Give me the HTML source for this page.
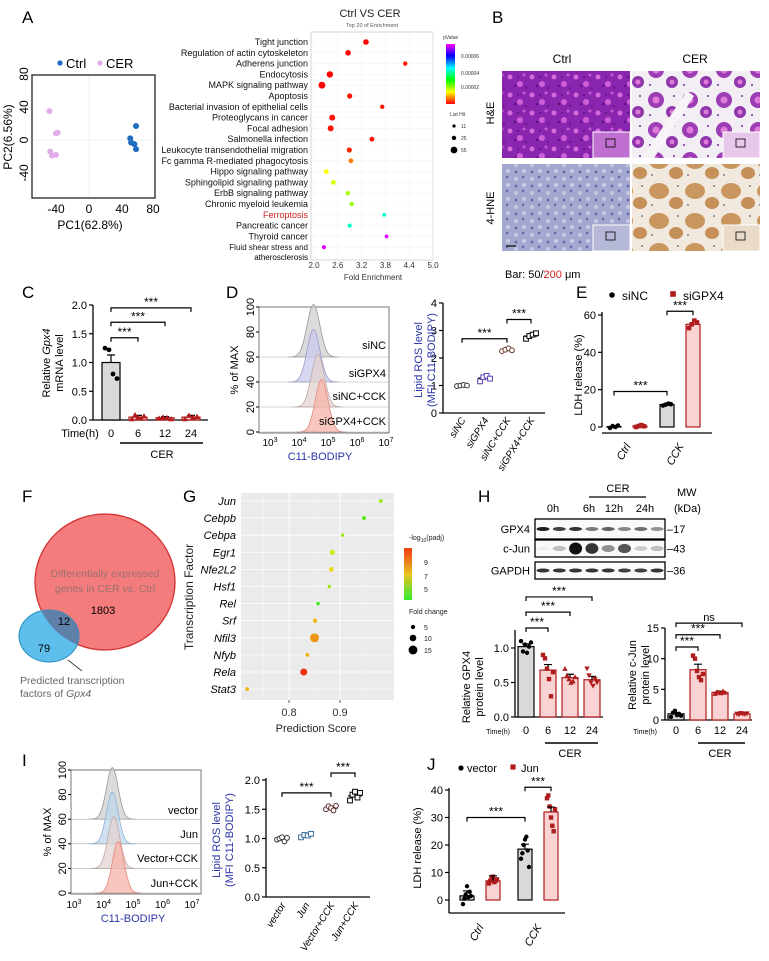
<!DOCTYPE html>
<html><head><meta charset="utf-8"><title>Figure</title>
<style>
body{margin:0;background:#fff}
svg{display:block;font-family:"Liberation Sans",Arial,sans-serif}
</style></head>
<body>
<svg id="fig" width="769" height="961" viewBox="0 0 769 961">
<defs>
<pattern id="heCtrl" width="22" height="18" patternUnits="userSpaceOnUse">
<rect width="22" height="18" fill="#8a25b0"/>
<circle cx="4" cy="5" r="2.5" fill="#d56ad8"/><circle cx="14" cy="12" r="3" fill="#cf5fd6"/>
<circle cx="18" cy="3" r="1.5" fill="#c85ad0"/><circle cx="9" cy="14" r="1.2" fill="#5a1280"/>
<circle cx="12" cy="5" r="1" fill="#5a1280"/><circle cx="20" cy="16" r="1" fill="#5a1280"/>
</pattern>
<pattern id="heCer" width="34" height="30" patternUnits="userSpaceOnUse">
<rect width="34" height="30" fill="#f3eef4"/>
<circle cx="10" cy="10" r="8" fill="#9c3db5"/><circle cx="10" cy="10" r="3.5" fill="#e07ad8"/>
<circle cx="26" cy="22" r="6" fill="#8f36ad"/><circle cx="26" cy="22" r="2.5" fill="#e07ad8"/>
<circle cx="28" cy="6" r="1" fill="#7a2a99"/><circle cx="4" cy="25" r="1" fill="#7a2a99"/>
</pattern>
<pattern id="hneCtrl" width="16" height="14" patternUnits="userSpaceOnUse">
<rect width="16" height="14" fill="#a4a7cf"/>
<circle cx="4" cy="4" r="1.3" fill="#5f63a3"/><circle cx="11" cy="9" r="1.2" fill="#5f63a3"/>
<circle cx="12" cy="3" r="2" fill="#c9cae2"/><circle cx="4" cy="11" r="2.2" fill="#c4c6e0"/>
</pattern>
<pattern id="hneCer" width="36" height="30" patternUnits="userSpaceOnUse">
<rect width="36" height="30" fill="#f1e8de"/>
<ellipse cx="11" cy="11" rx="10" ry="8" fill="#c8965e"/>
<ellipse cx="28" cy="23" rx="7" ry="6" fill="#c48f58"/>
<circle cx="30" cy="6" r="0.9" fill="#6a5a7a"/><circle cx="4" cy="25" r="0.9" fill="#6a5a7a"/>
</pattern>
<linearGradient id="pGrad" x1="0" y1="1" x2="0" y2="0">
<stop offset="0" stop-color="#ff0000"/><stop offset="0.2" stop-color="#ffff00"/><stop offset="0.4" stop-color="#00ff00"/>
<stop offset="0.6" stop-color="#00ffff"/><stop offset="0.8" stop-color="#0000ff"/><stop offset="1" stop-color="#ff00ff"/>
</linearGradient>
<linearGradient id="gGrad" x1="0" y1="1" x2="0" y2="0">
<stop offset="0" stop-color="#33ee33"/><stop offset="0.5" stop-color="#e8c020"/><stop offset="1" stop-color="#ee3a10"/>
</linearGradient>
</defs>
</svg>
<script>
// ===== DATA =====
const pcaCtrlX=[50,57,51,55,57];
const pcaCtrlY=[2,17,-3,-5,-11];
const pcaCerX=[-48,-40,-38,-47,-45,-40];
const pcaCerY=[35,8,9,-14,-19,-18];
const pcaXTicks=[-40,0,40,80];
const pcaYTicks=[80,40,0,-40];

const enrTerms=["Tight junction","Regulation of actin cytoskeleton","Adherens junction","Endocytosis","MAPK signaling pathway","Apoptosis","Bacterial invasion of epithelial cells","Proteoglycans in cancer","Focal adhesion","Salmonella infection","Leukocyte transendothelial migration","Fc gamma R-mediated phagocytosis","Hippo signaling pathway","Sphingolipid signaling pathway","ErbB signaling pathway","Chronic myeloid leukemia","Ferroptosis","Pancreatic cancer","Thyroid cancer","Fluid shear stress and"];
const enrFold=[3.31,2.86,4.30,2.40,2.20,2.90,3.72,2.46,2.42,3.46,2.89,2.93,2.31,2.49,2.85,2.95,3.77,2.90,3.83,2.25];
const enrP=[0.000005,0.000005,0.000006,0.000005,0.000005,0.000006,0.000006,0.000006,0.000006,0.000006,0.000007,0.000012,0.000019,0.000021,0.000024,0.000025,0.000044,0.000044,0.000073,0.000073];
const enrHits=[40,40,25,50,55,35,25,45,45,30,35,30,30,30,25,25,18,22,18,22];
const enrXTicks=[2.0,2.6,3.2,3.8,4.4,5.0];

const cTimes=["0","6","12","24"];
const cMeans=[1.0,0.05,0.04,0.05];
const cSems=[0.13,0.03,0.02,0.03];
const cPts=[[1.25,1.22,0.8,0.72],[0.02,0.09,0.05,0.03,0.07],[0.03,0.05,0.04,0.02],[0.02,0.08,0.05,0.06]];
const cTicks=[0,0.5,1.0,1.5,2.0];

const dGroups=["siNC","siGPX4","siNC+CCK","siGPX4+CCK"];
const dPeak=[4.5,4.5,4.65,4.78];
const dMeans=[1.0,1.27,2.3,2.8];
const dPts=[[0.98,1.0,1.02,1.0],[1.15,1.3,1.35,1.25],[2.25,2.3,2.35,2.28],[2.7,2.8,2.85,2.9]];
const dTicks=[0,1,2,3,4];
const histYTicks=[0,20,40,60,80,100];
const histXTicks=[3,4,5,6,7];

const eGroups=["Ctrl","CCK"];
const eMeans=[[0.2,0.5],[12,55]];
const ePts=[[[-0.5,0.5,0,0.8],[0,0.5,1,0.4]],[[11.5,12,12.5,12.2],[53,55,57,56]]];
const eTicks=[0,20,40,60];

const vennDE=1803, vennTF=79, vennBoth=12;

const gTF=["Jun","Cebpb","Cebpa","Egr1","Nfe2L2","Hsf1","Rel","Srf","Nfil3","Nfyb","Rela","Stat3"];
const gScore=[0.98,0.947,0.905,0.885,0.883,0.879,0.857,0.851,0.85,0.836,0.829,0.718];
const gPadj=[6,5,6,6.8,7.5,6,4.5,8,8.5,8,10,8];
const gFold=[4,4,3,7,6,3,3,5,15,4,11,4];
const gXTicks=[0.8,0.9];

const blotGPX4=[0.95,0.8,0.85,0.55,0.65,0.5,0.6,0.45];
const blotCJun=[0.05,0.25,1.0,0.85,0.45,0.7,0.2,0.25];
const blotGAPDH=[0.85,0.85,0.85,0.85,0.85,0.8,0.8,0.85];

const hGpxMeans=[1.02,0.68,0.57,0.54];
const hGpxSems=[0.04,0.08,0.05,0.05];
const hGpxPts=[[1.1,0.95,1.05,0.93,1.02,1.08],[0.9,0.85,0.7,0.55,0.3,0.65],[0.7,0.6,0.55,0.5,0.52,0.58],[0.7,0.6,0.5,0.45,0.55,0.5]];
const hGpxTicks=[0,0.5,1.0];
const hJunMeans=[1.0,8.2,4.5,1.0];
const hJunSems=[0.2,0.9,0.2,0.05];
const hJunPts=[[0.5,1.2,1.5,0.8,1.0,0.7],[10.5,10,8,7,6.5,7.5],[4.3,4.6,4.5,4.4,4.7,4.5],[1.0,0.9,1.1,1.0,0.95,1.05]];
const hJunTicks=[0,5,10,15];

const iGroups=["vector","Jun","Vector+CCK","Jun+CCK"];
const iPeak=[4.3,4.3,4.35,4.5];
const iMeans=[1.0,1.05,1.52,1.73];
const iPts=[[0.98,1.0,1.02,0.95,1.01],[1.02,1.06,1.05,1.08],[1.5,1.55,1.52,1.48,1.56],[1.65,1.75,1.8,1.7,1.78]];
const iTicks=[0,0.5,1.0,1.5,2.0];

const jMeans=[[1.5,7],[18.5,32]];
const jPts=[[[-1.5,0.5,2,5,1,3,1.5],[6,7,8,8.5,6.5,7,7.5]],[[15,17,20,22,23,18,12],[37,38,34,30,27,25,33]]];
const jTicks=[0,10,20,30,40];

// ===== HELPERS =====
const NS='http://www.w3.org/2000/svg';
const fig=document.getElementById('fig');
function el(tag,at,parent){const e=document.createElementNS(NS,tag);for(const k in at)e.setAttribute(k,at[k]);(parent||fig).appendChild(e);return e;}
function nm(e,n){


return e;}
function tx(x,y,s,fs,o,name){o=o||{};const e=el('text',Object.assign({x:x,y:y,'font-size':fs,fill:o.fill||'#000','text-anchor':o.a||'start'},o.at||{}));e.innerHTML=s;if(o.rot!==undefined)e.setAttribute('transform','rotate('+o.rot+' '+x+' '+y+')');return nm(e,name||'label');}
function ln(x1,y1,x2,y2,w,c,name){return nm(el('line',{x1:x1,y1:y1,x2:x2,y2:y2,stroke:c||'#000','stroke-width':w||1}),name||'line');}
function lin(d0,d1,r0,r1){return v=>r0+(v-d0)*(r1-r0)/(d1-d0);}
function marker(shape,x,y,s,fill,stroke,name){let e;
if(shape==='c')e=el('circle',{cx:x,cy:y,r:s,fill:fill,stroke:stroke||'none','stroke-width':1});
else if(shape==='s')e=el('rect',{x:x-s,y:y-s,width:2*s,height:2*s,fill:fill,stroke:stroke||'none','stroke-width':1});
else if(shape==='t')e=el('polygon',{points:(x)+','+(y-s-0.5)+' '+(x-s-0.5)+','+(y+s)+' '+(x+s+0.5)+','+(y+s),fill:fill});
else e=el('polygon',{points:(x)+','+(y+s+0.5)+' '+(x-s-0.5)+','+(y-s)+' '+(x+s+0.5)+','+(y-s),fill:fill});
return nm(e,name||'data-point');}
function bracket(x1,x2,y,lab,name){const g=nm(el('g',{}),name||'significance-bracket');
el('path',{d:'M'+x1+' '+(y+4)+'V'+y+'H'+x2+'V'+(y+4),fill:'none',stroke:'#000','stroke-width':1.2},g);
const t=el('text',{x:(x1+x2)/2,y:y-2,'font-size':lab==='ns'?11:12,'text-anchor':'middle'},g);t.textContent=lab;return g;}
function yAxis(ax,ys,ticks,fmt,top,name){ln(ax,top,ax,ys(ticks[0]),1.3,'#000',name||'y-axis');
ticks.forEach(t=>{ln(ax-4,ys(t),ax,ys(t),1.2,'#000','y-tick');tx(ax-6,ys(t)+4,fmt(t),11,{a:'end'},'y-tick-label');});}
function errBar(x,ym,ye,hw,name){const g=nm(el('g',{}),name||'error-bar');
el('path',{d:'M'+x+' '+ym+'V'+ye+'M'+(x-hw)+' '+ye+'H'+(x+hw),stroke:'#000','stroke-width':1.2,fill:'none'},g);return g;}
function gauss(xs,baseY,hPx,mu,sig,fill,stroke,name){let d='M'+xs(mu-4*sig)+' '+baseY;
for(let i=0;i<=60;i++){const v=mu-4*sig+8*sig*i/60;d+='L'+xs(v).toFixed(1)+' '+(baseY-hPx*Math.exp(-0.5*((v-mu)/sig)**2)).toFixed(1);}
d+='Z';return nm(el('path',{d:d,fill:fill,stroke:stroke,'stroke-width':0.8,'fill-opacity':0.75}),name);}

// ===== PANEL LETTERS =====
[['A',22,23],['B',492,23],['C',22,298],['D',226,298],['E',576,298],['F',22,502],['G',183,502],['H',478,502],['I',22,766],['J',427,770]].forEach(p=>tx(p[1],p[2],p[0],17,{},'panel-label-'+p[0].toLowerCase()));

// ===== A: PCA =====
const pxs=lin(-40,40,56,122), pys=lin(0,40,140,107);
nm(el('rect',{x:32,y:75,width:123,height:123,fill:'#fff',stroke:'#222','stroke-width':1.3}),'pca-plot-frame');
ln(pxs(0),76,pxs(0),197,0.5,'#e4e4e4','pca-gridline');ln(33,pys(0),154,pys(0),0.5,'#e4e4e4','pca-gridline');
pcaXTicks.forEach(t=>{const x=Math.min(pxs(t),153);tx(x,213,String(t),12,{a:'middle'},'pca-x-tick-label');});
pcaYTicks.forEach(t=>tx(28,pys(t),String(t),12,{a:'middle',rot:-90,at:{dy:0}},'pca-y-tick-label'));
tx(90,229,'PC1(62.8%)',12,{a:'middle'},'pca-x-axis-title');
tx(12,137,'PC2(6.56%)',12,{a:'middle',rot:-90},'pca-y-axis-title');
pcaCtrlX.forEach((v,i)=>marker('c',pxs(v),pys(pcaCtrlY[i]),3,'#1f6cc0',null,'pca-point-ctrl'));
pcaCerX.forEach((v,i)=>marker('c',pxs(v),pys(pcaCerY[i]),3,'#e2acea',null,'pca-point-cer'));
marker('c',60,63,2.6,'#1f6cc0',null,'legend-marker-ctrl');tx(66,68,'Ctrl',13,{},'legend-label-ctrl');
marker('c',100,63,2.6,'#e2acea',null,'legend-marker-cer');tx(106,68,'CER',13,{},'legend-label-cer');

// ===== A: Enrichment =====
const exs=lin(2,5,314,433);
const eRowY=i=>42+i*10.8;
nm(el('rect',{x:311,y:32,width:122,height:228,fill:'#fff',stroke:'#ccc','stroke-width':0.8}),'enrichment-plot-frame');
enrXTicks.forEach(t=>{ln(exs(t),32,exs(t),260,0.4,'#eee','enrichment-gridline');tx(exs(t),268,t.toFixed(1),8,{a:'middle',fill:'#333'},'enrichment-x-tick-label');});
enrTerms.forEach((t,i)=>{ln(311,eRowY(i),433,eRowY(i),0.4,'#eee','enrichment-gridline');
tx(308,eRowY(i)+3,t,i===19?8:9,{a:'end',fill:i===16?'#d02020':'#111'},'enrichment-term-label');});
tx(308,eRowY(19)+13,'atherosclerosis',8,{a:'end'},'enrichment-term-label');
const pcol=p=>'hsl('+Math.max(0,Math.min(300,(p-0.000005)/0.00007*300))+',100%,50%)';
enrFold.forEach((v,i)=>marker('c',exs(v),eRowY(i),1.2+enrHits[i]*0.04,pcol(enrP[i]),null,'enrichment-dot'));
tx(370,17,'Ctrl VS CER',11,{a:'middle',fill:'#222'},'enrichment-title');
tx(372,27,'Top 20 of  Enrichment',5.5,{a:'middle',fill:'#555'},'enrichment-subtitle');
tx(373,280,'Fold Enrichment',8,{a:'middle',fill:'#333'},'enrichment-x-axis-title');
tx(443,39,'pValue',5,{fill:'#333'},'colorbar-title');
nm(el('rect',{x:446,y:44,width:9,height:60,fill:'url(#pGrad)'}),'pvalue-colorbar');
[['0.00006',58],['0.00004',75],['0.00002',89]].forEach(l=>tx(461,l[1],l[0],5,{fill:'#333'},'colorbar-label'));
tx(450,116,'List Hit',5,{fill:'#333'},'size-legend-title');
[[11,126],[25,138],[55,150]].forEach(l=>{marker('c',454,l[1],1.2+l[0]*0.04,'#000',null,'size-legend-marker');tx(461,l[1]+2,String(l[0]),5,{fill:'#333'},'size-legend-label');});

// ===== B: histology =====
tx(562,63,'Ctrl',12,{a:'middle'},'histology-col-ctrl');tx(695,63,'CER',12,{a:'middle'},'histology-col-cer');
tx(494,113,'H&amp;E',11,{a:'middle',rot:-90},'histology-row-he');tx(494,208,'4-HNE',11,{a:'middle',rot:-90},'histology-row-4hne');
[[502,71,'heCtrl','#c070d0'],[632,71,'heCer','#e8c8ea'],[502,164,'hneCtrl','#b6b8d8'],[632,164,'hneCer','#eadbc8']].forEach((b,k)=>{
nm(el('rect',{x:b[0],y:b[1],width:128,height:87,fill:'url(#'+b[2]+')'}),'histology-image');
if(k===1){nm(el('path',{d:'M'+(b[0]+10)+' '+(b[1]+87)+'L'+(b[0]+55)+' '+(b[1]+20)+'L'+(b[0]+62)+' '+(b[1]+25)+'L'+(b[0]+22)+' '+(b[1]+87)+'Z',fill:'#f7f3f7'}),'tissue-gap');}
nm(el('rect',{x:b[0]+91,y:b[1]+61,width:37,height:26,fill:b[3],stroke:'#fff','stroke-width':1}),'histology-inset');
nm(el('rect',{x:b[0]+104,y:b[1]+68,width:9,height:8,fill:'none',stroke:'#000','stroke-width':0.8}),'inset-box');});
ln(506,246,516,246,1.5,'#222','scale-bar');
const bt=tx(505,278,'Bar: 50/<tspan fill="#d02020">200</tspan> μm',11,{},'scale-bar-label');

// ===== C =====
const cys=lin(0,2,420,305), cxs=[111,138,165,191];
yAxis(93,cys,cTicks,t=>t.toFixed(1),305,'c-y-axis');
ln(93,420,208,420,1.3,'#000','c-x-axis');
cMeans.forEach((m,i)=>{const bw=18;nm(el('rect',{x:cxs[i]-bw/2,y:cys(m),width:bw,height:420-cys(m),fill:i?'#f8d0d0':'#d9d9d9',stroke:i?'#b01c1c':'#000','stroke-width':1.2}),'c-bar-'+cTimes[i]+'h');
errBar(cxs[i],cys(m),cys(m+cSems[i]),4,'c-error-bar');
cPts[i].forEach((v,j)=>marker(i?'t':'c',cxs[i]-6+j*12/Math.max(1,cPts[i].length-1),cys(v),2.4,i?'#b01c1c':'#000',null,'c-data-point'));});
bracket(cxs[0],cxs[1],cys(1.43),'***','c-bracket-6h');bracket(cxs[0],cxs[2],cys(1.7),'***','c-bracket-12h');bracket(cxs[0],cxs[3],cys(1.95),'***','c-bracket-24h');
tx(80,437,'Time(h)',11,{a:'middle'},'c-time-label');
cTimes.forEach((t,i)=>tx(cxs[i],437,t,11,{a:'middle'},'c-x-tick-label'));
ln(120,443,203,443,1.5,'#000','c-cer-line');tx(162,458,'CER',11,{a:'middle'},'c-cer-label');
tx(50,363,'Relative <tspan font-style="italic">Gpx4</tspan>',11,{a:'middle',rot:-90},'c-y-axis-title');
tx(63,363,'mRNA level',11,{a:'middle',rot:-90},'c-y-axis-title');

// ===== D histogram =====
const dhx=lin(3,7,270,386), dhy=lin(0,100,432,307);
nm(el('rect',{x:259,y:307,width:130,height:126,fill:'#fff',stroke:'#777','stroke-width':1}),'d-histogram-frame');
const dFill=['#cfcfcf','#c9c9ec','#e3d2cf','#f5b3a8'],dStroke=['#999','#9b9bd0','#bfa9a5','#e58b80'];
dGroups.forEach((g,i)=>{const base=60-20*i;gauss(dhx,dhy(base),dhy(0)-dhy(42),dPeak[i],0.22,dFill[i],dStroke[i],'d-histogram-'+g);ln(259,dhy(base),389,dhy(base),0.6,'#aaa','d-baseline');});
const dLabY=[349,377,400,425];
dGroups.forEach((g,i)=>tx(386,dLabY[i],g,11,{a:'end'},'d-histogram-label'));
histYTicks.forEach(t=>{tx(254,dhy(t),String(t),11,{a:'middle',rot:-90},'d-hist-y-tick-label');ln(256,dhy(t),259,dhy(t),1,'#000','y-tick');});
histXTicks.forEach(t=>tx(dhx(t),446,'10<tspan dy="-4" font-size="7">'+t+'</tspan>',10,{a:'middle'},'d-hist-x-tick-label'));
tx(320,460,'C11-BODIPY',11,{a:'middle',fill:'#2b35a8'},'d-hist-x-axis-title');
tx(238,370,'% of MAX',11,{a:'middle',rot:-90},'d-hist-y-axis-title');

// ===== D dot plot =====
const ddy=lin(0,4,413,303), ddx=[462,485,507,531];
yAxis(443,ddy,dTicks,t=>String(t),303,'d-dot-y-axis');ln(443,413,545,413,1.3,'#000','d-dot-x-axis');
dMeans.forEach((m,i)=>{ln(ddx[i]-7,ddy(m),ddx[i]+7,ddy(m),1.2,'#000','d-mean-line');
dPts[i].forEach((v,j)=>marker(i%2?'s':'c',ddx[i]-5+j*10/(dPts[i].length-1),ddy(v),2.4,'#fff',['#333','#5a3fb0','#6b3a2a','#000'][i],'d-data-point'));
tx(ddx[i]+4,420,dGroups[i],10,{a:'end',rot:-58,at:{'font-style':'italic'}},'d-x-tick-label');});
bracket(ddx[0],ddx[2],ddy(2.7),'***','d-bracket-1');bracket(ddx[2],ddx[3],ddy(3.4),'***','d-bracket-2');
tx(422,360,'Lipid ROS level',11,{a:'middle',rot:-90,fill:'#2b35a8'},'d-y-axis-title');
tx(435,360,'(MFI C11-BODIPY)',11,{a:'middle',rot:-90,fill:'#2b35a8'},'d-y-axis-title');

// ===== E =====
const eys=lin(0,60,427,315), eCx=[627,680];
yAxis(602,eys,eTicks,t=>String(t),312,'e-y-axis');ln(602,433,712,433,1.3,'#000','e-x-axis');
eGroups.forEach((g,gi)=>{[0,1].forEach(s=>{const x=eCx[gi]+(s?13:-13),m=eMeans[gi][s];
nm(el('rect',{x:x-7,y:eys(m),width:14,height:427-eys(m),fill:s?'#fbd3d3':'#d9d9d9',stroke:s?'#b01c1c':'#000','stroke-width':1.2}),'e-bar-'+g+(s?'-sigpx4':'-sinc'));
ePts[gi][s].forEach((v,j)=>marker(s?'s':'c',x-4+j*8/3,eys(v),2.3,s?'#b01c1c':'#000',null,'e-data-point'));});
tx(eCx[gi]+4,446,g,11,{a:'end',rot:-60,at:{'font-style':'italic'}},'e-x-tick-label');});
bracket(eCx[0]-13,eCx[1]-13,eys(19),'***','e-bracket-1');bracket(eCx[1]-13,eCx[1]+13,eys(62),'***','e-bracket-2');
tx(582,375,'LDH release (%)',11,{a:'middle',rot:-90},'e-y-axis-title');
marker('c',612,295,2.8,'#000',null,'legend-marker-sinc');tx(622,300,'siNC',12,{},'legend-label-sinc');
marker('s',673,294,2.8,'#b01c1c',null,'legend-marker-sigpx4');tx(683,300,'siGPX4',12,{},'legend-label-sigpx4');

// ===== F Venn =====
nm(el('ellipse',{cx:105,cy:582,rx:70,ry:68,fill:'#f47c7c',stroke:'#d43030','stroke-width':1.3}),'venn-de-genes');
nm(el('ellipse',{cx:49,cy:636,rx:30,ry:26,fill:'#4db8ea','fill-opacity':0.9,stroke:'#2a8fc0','stroke-width':1}),'venn-predicted-tf');
const clipId='clipRed';const cp=el('clipPath',{id:clipId});el('ellipse',{cx:105,cy:582,rx:70,ry:68},cp);
nm(el('ellipse',{cx:49,cy:636,rx:30,ry:26,fill:'#5e7fa8','clip-path':'url(#'+clipId+')'}),'venn-overlap');
tx(105,577,'Differentially expressed',10.5,{a:'middle',fill:'#9a7070'},'venn-de-label');
tx(105,592,'genes in CER <tspan font-style="italic">vs</tspan>. Ctrl',10.5,{a:'middle',fill:'#9a7070'},'venn-de-label');
tx(103,614,String(vennDE),11,{a:'middle'},'venn-de-count');tx(64,625,String(vennBoth),11,{a:'middle'},'venn-overlap-count');tx(44,652,String(vennTF),11,{a:'middle'},'venn-tf-count');
ln(68,660,82,671,0.8,'#333','venn-callout-line');
tx(20,684,'Predicted transcription',10.5,{fill:'#666'},'venn-tf-label');
tx(20,697,'factors of <tspan font-style="italic">Gpx4</tspan>',10.5,{fill:'#666'},'venn-tf-label');

// ===== G =====
const gxs=lin(0.8,0.9,289,340), gRowY=i=>501+i*17.1;
nm(el('rect',{x:241,y:493,width:153,height:207,fill:'#ebebeb'}),'g-plot-background');
[0.75,0.85,0.95].forEach(t=>ln(gxs(t),493,gxs(t),700,0.4,'#f6f6f6','g-minor-gridline'));
gXTicks.forEach(t=>{ln(gxs(t),493,gxs(t),700,0.8,'#fff','g-gridline');ln(gxs(t),700,gxs(t),703,0.8,'#333','x-tick');tx(gxs(t),716,t.toFixed(1),11,{a:'middle',fill:'#333'},'g-x-tick-label');});
const gcol=v=>{const f=Math.max(0,Math.min(1,(v-4)/6));return 'hsl('+(120-f*112)+',85%,'+(50)+'%)';};
gTF.forEach((t,i)=>{ln(241,gRowY(i),394,gRowY(i),0.8,'#fff','g-gridline');tx(236,gRowY(i)+4,t,11,{a:'end',at:{'font-style':'italic'}},'g-tf-label');
marker('c',gxs(gScore[i]),gRowY(i),1+gFold[i]*0.23,gcol(gPadj[i]),null,'g-dot-'+t);});
tx(316,732,'Prediction Score',11,{a:'middle',fill:'#222'},'g-x-axis-title');
tx(193,597,'Transcription Factor',12,{a:'middle',rot:-90,fill:'#222'},'g-y-axis-title');
tx(409,540,'-log<tspan dy="2" font-size="5">10</tspan><tspan dy="-2">(padj)</tspan>',7,{fill:'#222'},'g-colorbar-title');
nm(el('rect',{x:404,y:548,width:8,height:52,fill:'url(#gGrad)'}),'g-colorbar');
[[9,565],[7,579],[5,592]].forEach(l=>tx(424,l[1],String(l[0]),7,{fill:'#222'},'g-colorbar-label'));
tx(409,614,'Fold change',7,{fill:'#222'},'g-size-legend-title');
[[5,627],[10,638],[15,650]].forEach(l=>{marker('c',413,l[1],1+l[0]*0.23,'#000',null,'g-size-legend-marker');tx(424,l[1]+3,String(l[0]),7,{fill:'#222'},'g-size-legend-label');});

// ===== H blot =====
tx(618,492,'CER',11,{a:'middle'},'h-cer-label');ln(589,497,646,497,1.3,'#000','h-cer-line');
tx(677,496,'MW',11,{},'h-mw-label');tx(674,512,'(kDa)',11,{},'h-kda-label');
[['0h',553],['6h',589],['12h',614],['24h',645]].forEach(l=>tx(l[1],512,l[0],11,{a:'middle'},'h-lane-label'));
const blots=[['GPX4',519,539,blotGPX4,'17'],['c-Jun',540,557,blotCJun,'43'],['GAPDH',562,579,blotGAPDH,'36']];
blots.forEach(b=>{nm(el('rect',{x:535,y:b[1],width:130,height:b[2]-b[1],fill:'#fafafa',stroke:'#000','stroke-width':1.3}),'h-blot-'+b[0]);
const cy=(b[1]+b[2])/2;b[3].forEach((v,i)=>{const cx=543+i*16.3;nm(el('ellipse',{cx:cx,cy:cy,rx:6.5,ry:b[0]==='c-Jun'?1.5+v*4.5:2,fill:'#111','fill-opacity':v}),'h-band');});
tx(530,cy+4,b[0],11,{a:'end'},'h-blot-label');tx(667,cy+4,'–'+b[4],11,{},'h-mw-marker');});

// ===== H GPX4 quant =====
function hChart(ax,ys,ticks,fmt,xs,means,sems,pts,top,xEnd,pfx){
yAxis(ax,ys,ticks,fmt,top,pfx+'-y-axis');ln(ax,ys(0),xEnd,ys(0),1.3,'#000',pfx+'-x-axis');
means.forEach((m,i)=>{nm(el('rect',{x:xs[i]-8,y:ys(m),width:16,height:ys(0)-ys(m),fill:i?'#f9d3d3':'#d9d9d9',stroke:i?'#b01c1c':'#000','stroke-width':1.2}),pfx+'-bar');
errBar(xs[i],ys(m),ys(m+sems[i]),4,pfx+'-error-bar');
pts[i].forEach((v,j)=>marker(['c','s','t','v'][i],xs[i]-5+j*10/(pts[i].length-1),ys(v),2.2,i?'#b01c1c':'#000',null,pfx+'-data-point'));});}
const hgy=lin(0,1,717,648), hgx=[526,548,570,592];
hChart(515,hgy,hGpxTicks,t=>t.toFixed(1),hgx,hGpxMeans,hGpxSems,hGpxPts,630,603,'h-gpx4');
bracket(hgx[0],hgx[1],hgy(1.29),'***','h-gpx4-bracket');bracket(hgx[0],hgx[2],hgy(1.52),'***','h-gpx4-bracket');bracket(hgx[0],hgx[3],hgy(1.74),'***','h-gpx4-bracket');
tx(470,687,'Relative GPX4',11,{a:'middle',rot:-90},'h-gpx4-y-axis-title');tx(483,687,'protein level',11,{a:'middle',rot:-90},'h-gpx4-y-axis-title');
tx(498,734,'Time(h)',7,{a:'middle'},'h-time-label');
['0','6','12','24'].forEach((t,i)=>tx(hgx[i],734,t,11,{a:'middle'},'h-x-tick-label'));
ln(545,743,598,743,1.5,'#000','h-cer-line');tx(570,757,'CER',11,{a:'middle'},'h-cer-axis-label');
// c-Jun
const hjy=lin(0,15,720,628), hjx=[676,698,720,742];
hChart(665,hjy,hJunTicks,t=>String(t),hjx,hJunMeans,hJunSems,hJunPts,628,752,'h-cjun');
bracket(hjx[0],hjx[1],hjy(11.9),'***','h-cjun-bracket');bracket(hjx[0],hjx[2],hjy(13.9),'***','h-cjun-bracket');bracket(hjx[0],hjx[3],hjy(15.8),'ns','h-cjun-bracket');
tx(636,675,'Relative c-Jun',11,{a:'middle',rot:-90},'h-cjun-y-axis-title');tx(649,675,'protein level',11,{a:'middle',rot:-90},'h-cjun-y-axis-title');
tx(645,734,'Time(h)',7,{a:'middle'},'h-time-label');
['0','6','12','24'].forEach((t,i)=>tx(hjx[i],734,t,11,{a:'middle'},'h-x-tick-label'));
ln(698,743,745,743,1.5,'#000','h-cer-line');tx(720,757,'CER',11,{a:'middle'},'h-cer-axis-label');

// ===== I histogram =====
const ihx=lin(3,7,74,192), ihy=lin(0,100,893,770);
nm(el('rect',{x:71,y:770,width:130,height:124,fill:'#fff',stroke:'#777','stroke-width':1}),'i-histogram-frame');
const iFill=['#cfcfcf','#bfd6ec','#e3d2cf','#f5b3a8'],iStroke=['#999','#8fb3d8','#bfa9a5','#e58b80'];
iGroups.forEach((g,i)=>{const base=60-20*i;gauss(ihx,ihy(base),ihy(0)-ihy(42),iPeak[i],0.2,iFill[i],iStroke[i],'i-histogram-'+g);ln(71,ihy(base),201,ihy(base),0.6,'#aaa','i-baseline');});
const iLabY=[814,838,862,887];
iGroups.forEach((g,i)=>tx(198,iLabY[i],g,11,{a:'end'},'i-histogram-label'));
histYTicks.forEach(t=>{tx(66,ihy(t),String(t),11,{a:'middle',rot:-90},'i-hist-y-tick-label');ln(68,ihy(t),71,ihy(t),1,'#000','y-tick');});
histXTicks.forEach(t=>tx(ihx(t),908,'10<tspan dy="-4" font-size="7">'+t+'</tspan>',10,{a:'middle'},'i-hist-x-tick-label'));
tx(133,922,'C11-BODIPY',11,{a:'middle',fill:'#2b35a8'},'i-hist-x-axis-title');
tx(51,832,'% of MAX',11,{a:'middle',rot:-90},'i-hist-y-axis-title');

// ===== I dot plot =====
const idy=lin(0,2,897,780), idx=[282,306,331,355];
yAxis(266,idy,iTicks,t=>t.toFixed(1),778,'i-dot-y-axis');ln(266,897,370,897,1.3,'#000','i-dot-x-axis');
iMeans.forEach((m,i)=>{ln(idx[i]-7,idy(m),idx[i]+7,idy(m),1.2,'#000','i-mean-line');
iPts[i].forEach((v,j)=>marker(i%2?'s':'c',idx[i]-5+j*10/(iPts[i].length-1),idy(v),2.4,'#fff',['#333','#3a6fa0','#5a2a2a','#000'][i],'i-data-point'));
tx(idx[i]+4,905,iGroups[i],10,{a:'end',rot:-58,at:{'font-style':'italic'}},'i-x-tick-label');});
bracket(idx[0],idx[2],idy(1.78),'***','i-bracket-1');bracket(idx[2],idx[3],idy(2.12),'***','i-bracket-2');
tx(220,840,'Lipid ROS level',11,{a:'middle',rot:-90,fill:'#2b35a8'},'i-y-axis-title');
tx(233,840,'(MFI C11-BODIPY)',11,{a:'middle',rot:-90,fill:'#2b35a8'},'i-y-axis-title');

// ===== J =====
const jys=lin(0,40,900,790), jCx=[480,538];
yAxis(449,jys,jTicks,t=>String(t),788,'j-y-axis');ln(449,913,565,913,1.3,'#000','j-x-axis');ln(449,900,449,913,1.3,'#000','j-y-axis-ext');
['Ctrl','CCK'].forEach((g,gi)=>{[0,1].forEach(s=>{const x=jCx[gi]+(s?13:-13),m=jMeans[gi][s];
nm(el('rect',{x:x-7,y:jys(m),width:14,height:900-jys(m),fill:s?'#fbd3d3':'#d9d9d9',stroke:s?'#b01c1c':'#000','stroke-width':1.2}),'j-bar-'+g+(s?'-jun':'-vector'));
const p=jPts[gi][s];p.forEach((v,j)=>marker(s?'s':'c',x-4+j*8/(p.length-1),jys(v),2.2,s?'#b01c1c':'#000',null,'j-data-point'));
errBar(x,jys(m),jys(m+1.8),4,'j-error-bar');});
tx(jCx[gi]+4,927,g,11,{a:'end',rot:-60,at:{'font-style':'italic'}},'j-x-tick-label');});
bracket(jCx[0]-13,jCx[1]-13,jys(30),'***','j-bracket-1');bracket(jCx[1]-13,jCx[1]+13,jys(41),'***','j-bracket-2');
tx(421,848,'LDH release (%)',11,{a:'middle',rot:-90},'j-y-axis-title');
marker('c',461,768,2.6,'#000',null,'legend-marker-vector');tx(467,772,'vector',11,{},'legend-label-vector');
marker('s',513,767,2.6,'#b01c1c',null,'legend-marker-jun');tx(521,772,'Jun',11,{},'legend-label-jun');
</script>
</body></html>
